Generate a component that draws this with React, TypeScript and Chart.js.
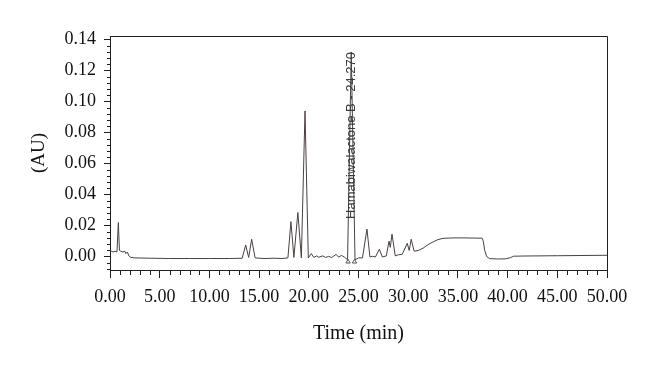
import React, { useEffect, useRef } from 'react';
import { Chart, registerables } from 'chart.js';

Chart.register(...registerables);

// Chromatogram trace: retention time (min) and absorbance (AU)
const timeMin = [
  0.0, 0.3, 0.5, 0.7, 0.84, 0.95, 1.1, 1.3, 1.5, 1.6, 1.75, 1.9, 2.1, 2.5, 4.0, 6.0, 8.0, 10.0, 12.0,
  13.3, 13.65, 13.95, 14.25, 14.6, 15.5, 16.5, 17.3, 17.9, 18.2, 18.5, 18.9, 19.25, 19.62, 19.95,
  20.25, 20.5, 20.8, 21.0, 21.4, 21.7, 22.0, 22.3, 22.75, 23.0, 23.3, 23.6, 23.9, 24.27, 24.65,
  25.0, 25.4, 25.85, 26.15, 26.4, 26.7, 27.1, 27.4, 27.8, 28.07, 28.2, 28.37, 28.7, 29.0, 29.4,
  29.9, 30.1, 30.3, 30.6, 31.0, 31.5, 32.0, 32.5, 33.0, 33.5, 34.5, 35.5, 36.5, 37.45, 37.55,
  37.7, 37.9, 38.2, 39.0, 39.8, 40.3, 40.6, 41.5, 45.0, 50.0,
];
const absorbance = [
  0.004, 0.003, 0.0035, 0.003, 0.022, 0.004, 0.0035, 0.003, 0.0035, 0.002, 0.003, 0.0005, -0.0005, -0.0008, -0.001, -0.0012, -0.0012, -0.0012, -0.0012,
  -0.001, 0.0075, -0.0005, 0.0112, -0.0008, -0.0012, -0.001, -0.0012, -0.0008, 0.0226, -0.0005, 0.0285, -0.0008, 0.094, -0.0008,
  0.002, -0.0005, 0.0005, -0.0004, 0.0005, -0.0005, 0.0002, -0.0006, 0.0015, -0.0003, 0.0008, -0.0004, -0.002, 0.132, -0.002,
  -0.0008, -0.0008, 0.0178, -0.0002, 0.0002, -0.0002, 0.0048, -0.0002, 0.0005, 0.01, 0.006, 0.0145, 0.0005, 0.0012, 0.0015,
  0.0086, 0.004, 0.0112, 0.0035, 0.004, 0.0055, 0.0078, 0.0095, 0.011, 0.0118, 0.0121, 0.0121, 0.012, 0.0119, 0.01,
  0.004, 0.0, -0.0013, -0.0015, -0.0014, -0.0006, 0.0003, 0.0004, 0.0006, 0.0009,
];

// Integration markers (peak start / end) of the labelled peak
const markerTimes = [23.95, 24.6];
const markerValues = [-0.0033, -0.0033];

// Peak annotation
const peakLabel = 'Hamabiwalactone B - 24.270';
const peakTime = 24.27;
const peakTop = 0.132;

// Axes
const xMin = 0;
const xMax = 50;
const xStep = 5;
const yMin = -0.0086;
const yMax = 0.1423;
const yStep = 0.02;
const xTitle = 'Time (min)';
const yTitle = '(AU)';

const AXIS = '#231f20';
const TRACE = '#4a4040';
const SERIF = '"Liberation Serif", "Times New Roman", serif';

const decorPlugin = {
  id: 'decor',
  afterDatasetsDraw(chart: any) {
    const { ctx, scales } = chart;
    const x = scales.x;
    const y = scales.y;
    const px = x.getPixelForValue(peakTime);
    const py = y.getPixelForValue(peakTop);
    ctx.save();
    ctx.translate(px, py);
    ctx.rotate(-Math.PI / 2);
    ctx.font = '13px "Liberation Sans", Arial, sans-serif';
    ctx.fillStyle = '#3a3a3a';
    ctx.textAlign = 'right';
    ctx.textBaseline = 'middle';
    ctx.fillText(peakLabel, 0, 0);
    ctx.restore();
  },
  afterDraw(chart: any) {
    const { ctx, chartArea: a, scales } = chart;
    const x = scales.x;
    const y = scales.y;
    ctx.save();
    ctx.strokeStyle = AXIS;
    ctx.lineWidth = 1;
    ctx.beginPath();
    const top = Math.round(a.top) + 0.5;
    const right = Math.round(a.right) + 0.5;
    ctx.moveTo(Math.round(a.left), top);
    ctx.lineTo(right, top);
    ctx.lineTo(right, Math.round(a.bottom) + 0.5);
    // minor x ticks every 1 min
    for (let m = xMin; m <= xMax; m++) {
      if (m % xStep === 0) continue;
      const p = Math.round(x.getPixelForValue(m)) + 0.5;
      ctx.moveTo(p, Math.round(a.bottom));
      ctx.lineTo(p, Math.round(a.bottom) + 5);
    }
    // minor y ticks every 0.004
    for (let k = -2; k <= 35; k++) {
      if (k % 5 === 0) continue;
      const v = k * 0.004;
      if (v < yMin || v > yMax) continue;
      const p = Math.round(y.getPixelForValue(v)) + 0.5;
      ctx.moveTo(Math.round(a.left), p);
      ctx.lineTo(Math.round(a.left) - 3, p);
    }
    ctx.stroke();
    ctx.restore();
  },
};

export default function App() {
  const ref = useRef<HTMLCanvasElement | null>(null);
  useEffect(() => {
    if (!ref.current) return;
    const points = timeMin.map((t, i) => ({ x: t, y: absorbance[i] }));
    const markers = markerTimes.map((t, i) => ({ x: t, y: markerValues[i] }));
    const chart = new Chart(ref.current, {
      type: 'line',
      data: {
        datasets: [
          {
            data: points,
            borderColor: TRACE,
            borderWidth: 1,
            pointRadius: 0,
            tension: 0,
            fill: false,
          },
          {
            type: 'scatter',
            data: markers,
            pointStyle: 'triangle',
            pointRadius: 2.5,
            borderColor: '#555',
            borderWidth: 1,
            backgroundColor: '#fff',
          } as any,
        ],
      },
      options: {
        responsive: false,
        animation: false,
        devicePixelRatio: 1,
        layout: { padding: { left: 0, right: 53, top: 36, bottom: 0 } },
        plugins: { legend: { display: false }, tooltip: { enabled: false } },
        scales: {
          x: {
            type: 'linear',
            min: xMin,
            max: xMax,
            afterFit: (s: any) => { s.height = 99; },
            border: { display: true, color: AXIS, width: 1 },
            grid: { display: true, drawOnChartArea: false, drawTicks: true, tickLength: 8, color: AXIS },
            ticks: {
              stepSize: xStep,
              includeBounds: false,
              padding: 8,
              maxRotation: 0,
              autoSkip: false,
              color: '#111',
              font: { family: SERIF, size: 18 },
              callback: (v: any) => Number(v).toFixed(2),
            },
            title: {
              display: true,
              text: xTitle,
              color: '#111',
              font: { family: SERIF, size: 20 },
              padding: { top: 0, bottom: 23 },
            },
          },
          y: {
            type: 'linear',
            min: yMin,
            max: yMax,
            afterFit: (s: any) => { s.width = 110; },
            border: { display: true, color: AXIS, width: 1 },
            grid: { display: true, drawOnChartArea: false, drawTicks: true, tickLength: 6, color: AXIS },
            ticks: {
              stepSize: yStep,
              includeBounds: false,
              padding: 8,
              autoSkip: false,
              color: '#111',
              font: { family: SERIF, size: 18 },
              callback: (v: any) => Number(v).toFixed(2),
            },
            title: {
              display: true,
              text: yTitle,
              color: '#111',
              font: { family: SERIF, size: 19 },
              padding: { top: 28, bottom: 0 },
            },
          },
        },
      },
      plugins: [decorPlugin],
    });
    return () => chart.destroy();
  }, []);
  return (
    <div style={{ position: 'absolute', left: 0, top: 0, width: 660, height: 369, background: '#fff' }}>
      <canvas ref={ref} width={660} height={369} />
    </div>
  );
}
